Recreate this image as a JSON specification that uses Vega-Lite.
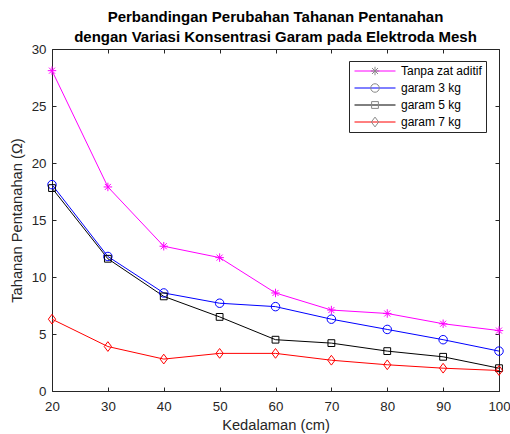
{
  "$schema": "https://vega.github.io/schema/vega-lite/v6.json",
  "width": 447,
  "height": 342,
  "autosize": "none",
  "padding": {"left": 52, "top": 49, "right": 11, "bottom": 43},
  "background": "white",
  "config": {"font": "Liberation Sans", "view": {"stroke": null}},
  "title": {
    "text": ["Perbandingan Perubahan Tahanan Pentanahan", "dengan Variasi Konsentrasi Garam pada Elektroda Mesh"],
    "fontSize": 15,
    "fontWeight": "bold",
    "color": "black",
    "anchor": "middle",
    "offset": -3,
    "lineHeight": 20,
    "font": "Liberation Sans"
  },
  "data": {
    "values": [
      {"kedalaman": 20, "tahanan": 28.1, "seri": "Tanpa zat aditif"},
      {"kedalaman": 30, "tahanan": 17.9, "seri": "Tanpa zat aditif"},
      {"kedalaman": 40, "tahanan": 12.7, "seri": "Tanpa zat aditif"},
      {"kedalaman": 50, "tahanan": 11.7, "seri": "Tanpa zat aditif"},
      {"kedalaman": 60, "tahanan": 8.6, "seri": "Tanpa zat aditif"},
      {"kedalaman": 70, "tahanan": 7.1, "seri": "Tanpa zat aditif"},
      {"kedalaman": 80, "tahanan": 6.8, "seri": "Tanpa zat aditif"},
      {"kedalaman": 90, "tahanan": 5.9, "seri": "Tanpa zat aditif"},
      {"kedalaman": 100, "tahanan": 5.3, "seri": "Tanpa zat aditif"},
      {"kedalaman": 20, "tahanan": 18.1, "seri": "garam 3 kg"},
      {"kedalaman": 30, "tahanan": 11.8, "seri": "garam 3 kg"},
      {"kedalaman": 40, "tahanan": 8.6, "seri": "garam 3 kg"},
      {"kedalaman": 50, "tahanan": 7.7, "seri": "garam 3 kg"},
      {"kedalaman": 60, "tahanan": 7.4, "seri": "garam 3 kg"},
      {"kedalaman": 70, "tahanan": 6.3, "seri": "garam 3 kg"},
      {"kedalaman": 80, "tahanan": 5.4, "seri": "garam 3 kg"},
      {"kedalaman": 90, "tahanan": 4.5, "seri": "garam 3 kg"},
      {"kedalaman": 100, "tahanan": 3.5, "seri": "garam 3 kg"},
      {"kedalaman": 20, "tahanan": 17.8, "seri": "garam 5 kg"},
      {"kedalaman": 30, "tahanan": 11.6, "seri": "garam 5 kg"},
      {"kedalaman": 40, "tahanan": 8.3, "seri": "garam 5 kg"},
      {"kedalaman": 50, "tahanan": 6.5, "seri": "garam 5 kg"},
      {"kedalaman": 60, "tahanan": 4.5, "seri": "garam 5 kg"},
      {"kedalaman": 70, "tahanan": 4.2, "seri": "garam 5 kg"},
      {"kedalaman": 80, "tahanan": 3.5, "seri": "garam 5 kg"},
      {"kedalaman": 90, "tahanan": 3.0, "seri": "garam 5 kg"},
      {"kedalaman": 100, "tahanan": 2.0, "seri": "garam 5 kg"},
      {"kedalaman": 20, "tahanan": 6.3, "seri": "garam 7 kg"},
      {"kedalaman": 30, "tahanan": 3.9, "seri": "garam 7 kg"},
      {"kedalaman": 40, "tahanan": 2.8, "seri": "garam 7 kg"},
      {"kedalaman": 50, "tahanan": 3.3, "seri": "garam 7 kg"},
      {"kedalaman": 60, "tahanan": 3.3, "seri": "garam 7 kg"},
      {"kedalaman": 70, "tahanan": 2.7, "seri": "garam 7 kg"},
      {"kedalaman": 80, "tahanan": 2.3, "seri": "garam 7 kg"},
      {"kedalaman": 90, "tahanan": 2.0, "seri": "garam 7 kg"},
      {"kedalaman": 100, "tahanan": 1.8, "seri": "garam 7 kg"}
    ]
  },
  "layer": [
    {
      "mark": {"type": "line", "strokeWidth": 1},
      "encoding": {
        "x": {
          "field": "kedalaman", "type": "quantitative",
          "scale": {"domain": [20, 100], "nice": false, "zero": false},
          "axis": {
            "orient": "bottom", "values": [20, 30, 40, 50, 60, 70, 80, 90, 100],
            "grid": false, "tickSize": -4, "labelPadding": 12, "labelFlush": false, "labelOverlap": false,
            "domainColor": "#262626", "tickColor": "#262626", "labelColor": "#262626",
            "labelFontSize": 13.3, "labelFont": "Liberation Sans",
            "title": "Kedalaman (cm)", "titleFontSize": 14.7, "titleFontWeight": "normal",
            "titleColor": "#262626", "titleFont": "Liberation Sans", "titlePadding": 5
          }
        },
        "y": {
          "field": "tahanan", "type": "quantitative",
          "scale": {"domain": [0, 30], "nice": false},
          "axis": {
            "orient": "left", "values": [0, 5, 10, 15, 20, 25, 30],
            "grid": false, "tickSize": -4, "labelPadding": 10, "labelOverlap": false,
            "domainColor": "#262626", "tickColor": "#262626", "labelColor": "#262626",
            "labelFontSize": 13.3, "labelFont": "Liberation Sans",
            "title": "Tahanan Pentanahan (Ω)", "titleFontSize": 14.7, "titleFontWeight": "normal",
            "titleColor": "#262626", "titleFont": "Liberation Sans", "titlePadding": 7
          }
        },
        "color": {
          "field": "seri", "type": "nominal",
          "scale": {
            "domain": ["Tanpa zat aditif", "garam 3 kg", "garam 5 kg", "garam 7 kg"],
            "range": ["#ff00ff", "#0000ff", "#000000", "#ff0000"]
          },
          "legend": {
            "orient": "none", "legendX": 297, "legendY": 12, "title": null,
            "symbolType": "stroke", "symbolSize": 1681, "symbolStrokeWidth": 1,
            "labelFontSize": 12, "labelColor": "black", "labelFont": "Liberation Sans",
            "labelOffset": 5, "symbolOffset": 1,
            "padding": 4, "strokeColor": "#262626", "fillColor": "white",
            "rowPadding": 5, "clipHeight": 12
          }
        }
      }
    },
    {
      "mark": {"type": "point", "filled": false, "size": 72, "strokeWidth": 1, "opacity": 1},
      "encoding": {
        "x": {
          "field": "kedalaman", "type": "quantitative",
          "scale": {"domain": [20, 100], "nice": false, "zero": false},
          "axis": {
            "orient": "top", "values": [20, 30, 40, 50, 60, 70, 80, 90, 100],
            "grid": false, "tickSize": -4, "labels": false, "title": null,
            "domainColor": "#262626", "tickColor": "#262626"
          }
        },
        "y": {
          "field": "tahanan", "type": "quantitative",
          "scale": {"domain": [0, 30], "nice": false},
          "axis": {
            "orient": "right", "values": [0, 5, 10, 15, 20, 25, 30],
            "grid": false, "tickSize": -4, "labels": false, "title": null,
            "domainColor": "#262626", "tickColor": "#262626"
          }
        },
        "color": {
          "field": "seri", "type": "nominal",
          "scale": {
            "domain": ["Tanpa zat aditif", "garam 3 kg", "garam 5 kg", "garam 7 kg"],
            "range": ["#ff00ff", "#0000ff", "#000000", "#ff0000"]
          },
          "legend": null
        },
        "shape": {
          "field": "seri", "type": "nominal",
          "scale": {
            "range": [
              "M-1,0L1,0M0,-1L0,1M-0.71,-0.71L0.71,0.71M-0.71,0.71L0.71,-0.71",
              "circle",
              "M-0.8,-0.8L0.8,-0.8L0.8,0.8L-0.8,0.8Z",
              "M0,-1.15L0.86,0L0,1.15L-0.86,0Z"
            ]
          },
          "legend": {
            "orient": "none", "legendX": 297, "legendY": 12, "title": null,
            "symbolSize": 72, "symbolStrokeWidth": 1, "symbolFillColor": "transparent",
            "symbolOffset": 16, "labelExpr": "''", "labelFontSize": 12, "labelOffset": 5,
            "padding": 4, "rowPadding": 5, "clipHeight": 12,
            "encode": {"symbols": {"update": {"stroke": {"scale": "color", "field": "value"}, "fill": {"value": "transparent"}}}}
          }
        }
      }
    }
  ],
  "resolve": {"axis": {"x": "independent", "y": "independent"}}
}
